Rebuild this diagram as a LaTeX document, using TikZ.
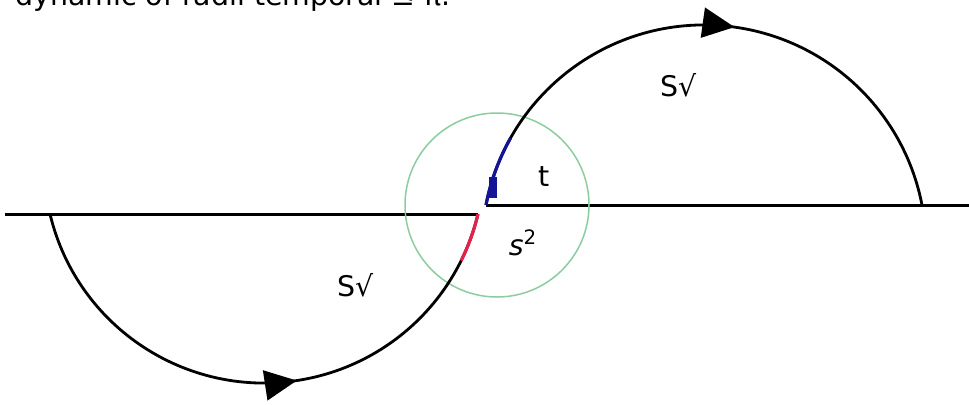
\documentclass[tikz,border=0pt]{standalone}
\usepackage{fontspec}
\setmainfont{DejaVu Sans}
\usetikzlibrary{decorations.markings,arrows.meta}
\definecolor{ringgreen}{RGB}{140,205,160}
\definecolor{segblue}{RGB}{20,20,150}
\definecolor{segred}{RGB}{225,35,75}
\begin{document}
\begin{tikzpicture}[x=0.5pt,y=0.5pt,
  axisline/.style={line width=1.5pt},
  orbit/.style={line width=1.4pt},
  lbl/.style={font=\fontsize{14.2}{17}\selectfont, inner sep=0pt},
  flowmark/.style={postaction=decorate, decoration={markings,
    mark=at position #1 with {\arrow{Triangle[length=16pt,width=15pt]}}}}]
\useasboundingbox (0,0) rectangle (969,404);
\clip (0,0) rectangle (969,404);
\fill[white] (0,0) rectangle (969,404);
% title (cut at the top, as in the reference)
\node[lbl, anchor=base west] (title) at (15,399) {dynamic of radii temporal ≤ π.};
% axis lines
\coordinate (L0) at (5,190);
\coordinate (LA) at (50,190);
\coordinate (L1) at (478,190);
\coordinate (R0) at (486,199);
\coordinate (R1) at (969,199);
\draw[axisline] (L0) -- (L1);
\draw[axisline] (R0) -- (R1);
% green ring
\node[circle, draw=ringgreen, line width=0.75pt, minimum size=92pt, inner sep=0pt] (ring) at (497,199) {};
% upper arc
\draw[orbit, flowmark=0.55] (R0) arc[start angle=169.1, end angle=10.9, radius=222];
\draw[segblue, line width=1.6pt] (R0) arc[start angle=169.1, end angle=150.7, radius=222];
\fill[segblue] (489,206) rectangle (497,227);
% lower arc
\draw[orbit, flowmark=0.556] (LA) arc[start angle=193.4, end angle=346.6, radius=220];
\draw[segred, line width=1.6pt] (L1) arc[start angle=346.6, end angle=333.7, radius=220];
% labels
\node[lbl] (sqU) at (679,319) {S√};
\node[lbl] (sqL) at (356,119) {S√};
\node[lbl] (tl) at (544,227) {t};
\node[lbl] (s2) at (523,161) {\textit{s}\textsuperscript{2}};
\end{tikzpicture}
\end{document}
